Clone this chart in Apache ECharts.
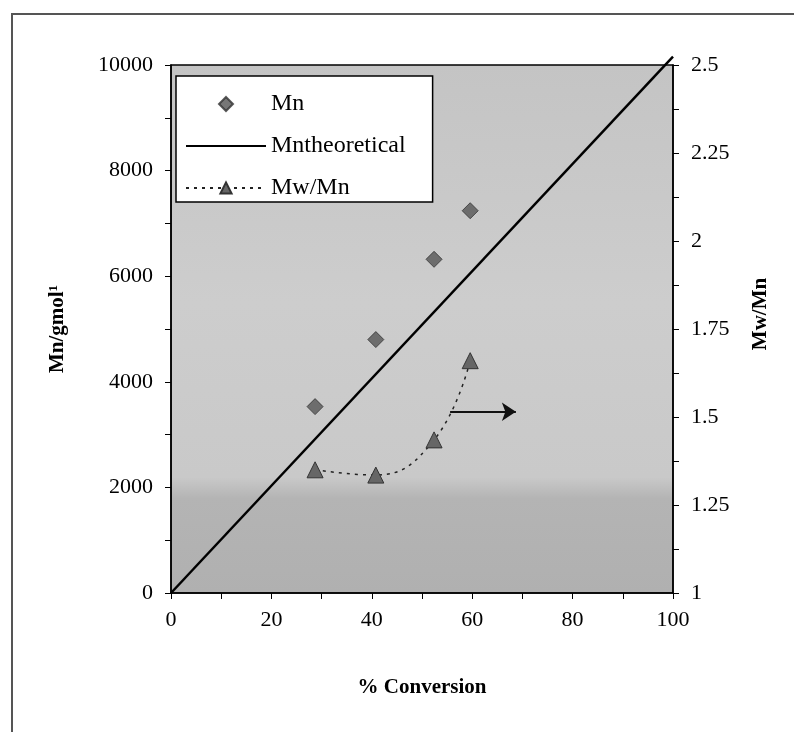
<!DOCTYPE html>
<html>
<head>
<meta charset="utf-8">
<script src="https://cdn.jsdelivr.net/npm/echarts@6/dist/echarts.min.js"></script>
<style>
  html, body { margin: 0; padding: 0; background: #fff; }
  #frame { position: absolute; left: 11px; top: 13px; width: 800px; height: 740px;
           border-left: 2px solid #555; border-top: 2px solid #555; }
  #chart { position: absolute; left: 0; top: 0; width: 794px; height: 732px; }
</style>
</head>
<body>
<div id="frame"></div>
<div id="chart"></div>
<script>
// % conversion of each sample
const conversion = [28.7, 40.8, 52.4, 59.6];
// measured number-average molar mass, g/mol
const mnMeasured = [3530, 4800, 6320, 7240];
// dispersity Mw/Mn
const dispersity = [1.35, 1.335, 1.435, 1.66];
// theoretical Mn line end points (conversion, Mn)
const theoryConversion = [0, 100];
const theoryMn = [0, 10160];
// arrow pointing at the right-hand axis (conversion, Mw/Mn)
const arrowFrom = [55.6, 1.515];
const arrowTo = [68.7, 1.515];

const serif = '"Liberation Serif", "DejaVu Serif", serif';

const chart = echarts.init(document.getElementById('chart'), null, { renderer: 'canvas' });

const axisCommon = {
  axisLine: { show: true, lineStyle: { color: '#000', width: 1.5 } },
  axisTick: { show: true, length: 6, lineStyle: { color: '#000', width: 1 } },
  minorTick: { show: true, splitNumber: 2, length: 6, lineStyle: { color: '#000', width: 1 } },
  splitLine: { show: false },
  axisLabel: { fontFamily: serif, fontSize: 22, color: '#000', formatter: v => String(v) },
  nameTextStyle: { fontFamily: serif, fontSize: 21, fontWeight: 'bold', color: '#000' }
};

chart.setOption({
  animation: false,
  grid: {
    left: 171, right: 121, top: 65, bottom: 139,
    show: true,
    borderColor: '#000',
    borderWidth: 1.5,
    backgroundColor: {
      type: 'linear', x: 0, y: 0, x2: 0, y2: 1,
      colorStops: [
        { offset: 0, color: '#c4c4c4' },
        { offset: 0.45, color: '#cdcdcd' },
        { offset: 0.78, color: '#c9c9c9' },
        { offset: 0.82, color: '#b4b4b4' },
        { offset: 1, color: '#b0b0b0' }
      ]
    }
  },
  legend: {
    orient: 'vertical',
    left: 176, top: 76,
    padding: [16, 27, 2, 9],
    itemWidth: 80, itemHeight: 14, itemGap: 18,
    backgroundColor: '#fff',
    borderColor: '#000', borderWidth: 1.5,
    textStyle: { fontFamily: serif, fontSize: 24, color: '#000', lineHeight: 20 },
    data: [
      { name: 'Mn', icon: 'path://M0,-1L1,0L0,1L-1,0Z' },
      { name: 'Mntheoretical', itemStyle: { color: 'rgba(0,0,0,0)', borderWidth: 0 } },
      { name: 'Mw/Mn' }
    ]
  },
  xAxis: Object.assign({}, axisCommon, {
    type: 'value', min: 0, max: 100, interval: 20,
    name: '% Conversion', nameLocation: 'middle', nameGap: 84,
    axisLabel: Object.assign({}, axisCommon.axisLabel, { margin: 16 })
  }),
  yAxis: [
    Object.assign({}, axisCommon, {
      type: 'value', position: 'left', min: 0, max: 10000, interval: 2000,
      name: 'Mn/gmol¹', nameLocation: 'middle', nameGap: 103,
      axisLabel: Object.assign({}, axisCommon.axisLabel, { margin: 18 })
    }),
    Object.assign({}, axisCommon, {
      type: 'value', position: 'right', min: 1, max: 2.5, interval: 0.25,
      name: 'Mw/Mn', nameLocation: 'middle', nameGap: 77,
      nameTextStyle: Object.assign({}, axisCommon.nameTextStyle, { padding: [0, 0, 0, 30] }),
      axisLabel: Object.assign({}, axisCommon.axisLabel, { margin: 18 })
    })
  ],
  series: [
    {
      name: 'Mn',
      type: 'scatter',
      symbol: 'diamond',
      symbolSize: 16,
      itemStyle: { color: '#555', borderColor: '#333', borderWidth: 1 },
      data: conversion.map((c, i) => [c, mnMeasured[i]])
    },
    {
      name: 'Mntheoretical',
      type: 'line',
      symbol: 'none',
      clip: false,
      lineStyle: { color: '#000', width: 2.5 },
      itemStyle: { color: '#000' },
      data: theoryConversion.map((c, i) => [c, theoryMn[i]])
    },
    {
      name: 'Mw/Mn',
      type: 'line',
      yAxisIndex: 1,
      smooth: 0.45,
      symbol: 'triangle',
      symbolSize: 16,
      itemStyle: { color: '#666', borderColor: '#333', borderWidth: 1 },
      lineStyle: { color: '#222', width: 1.5, type: [3, 5] },
      data: conversion.map((c, i) => [c, dispersity[i]]),
      markLine: {
        silent: true,
        symbol: ['none', 'arrow'],
        symbolSize: 14,
        label: { show: false },
        lineStyle: { color: '#111', width: 1.8, type: 'solid' },
        itemStyle: { color: '#111' },
        data: [[{ coord: arrowFrom }, { coord: arrowTo }]]
      }
    }
  ]
});
</script>
</body>
</html>
